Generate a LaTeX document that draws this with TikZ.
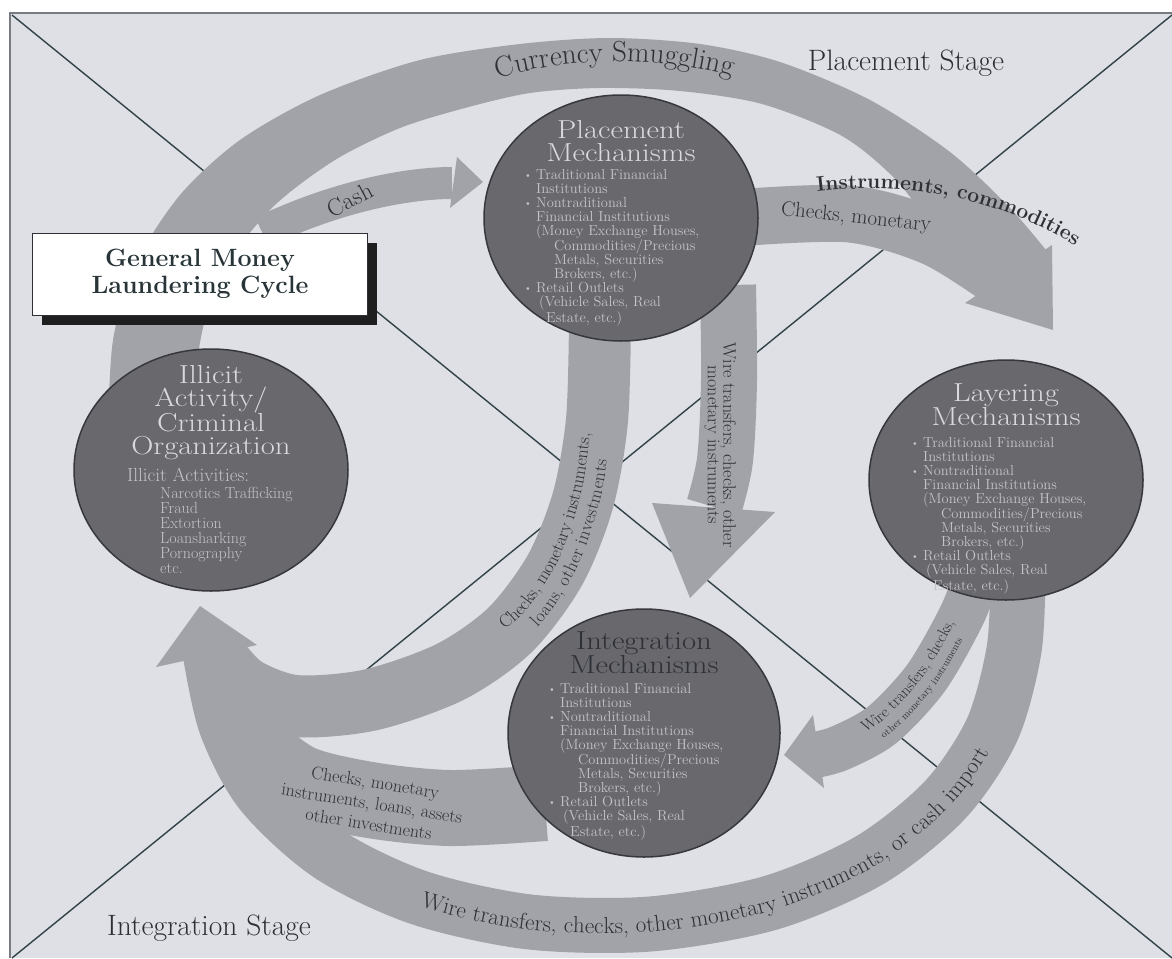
\documentclass[tikz,border=0pt]{standalone}
\usepackage{fontspec}
\usepackage{graphicx}
\usetikzlibrary{positioning, shapes.geometric, shadows, decorations.text}

\definecolor{bgpaper}{RGB}{222,224,230}
\definecolor{framec}{RGB}{120,124,130}
\definecolor{xlinec}{RGB}{50,66,72}
\definecolor{bandgray}{RGB}{162,163,169}
\definecolor{orbfill}{RGB}{104,104,109}
\definecolor{orbline}{RGB}{55,56,62}
\definecolor{orbtext}{RGB}{218,218,222}
\definecolor{inktext}{RGB}{45,48,54}
\definecolor{boxink}{RGB}{40,52,56}

\newcommand{\Bul}{\makebox[12pt][l]{\raisebox{1pt}{\scalebox{0.7}{\textbullet}}}}
\newcommand{\Ind}{\hspace*{12pt}}
\newcommand{\Wide}[1]{\scalebox{1.18}[1]{#1}}
\newcommand{\MechList}{\Bul Traditional Financial\\
  \Ind Institutions\\
  \Bul Nontraditional\\
  \Ind Financial Institutions\\
  \Ind (Money Exchange Houses,\\
  \Ind\hspace*{18pt}Commodities/Precious\\
  \Ind\hspace*{18pt}Metals, Securities\\
  \Ind\hspace*{18pt}Brokers, etc.)\\
  \Bul Retail Outlets\\
  \Ind\hspace*{3pt}(Vehicle Sales, Real\\
  \Ind\hspace*{10pt}Estate, etc.)}

\tikzset{
    orb/.style={ellipse, draw=orbline, line width=1.5pt, fill=orbfill, inner sep=0pt},
    orbtitle/.style={text=orbtext, align=center, inner sep=0pt, font=\fontsize{26}{23}\selectfont},
    orbbody/.style={text=orbtext!90!black, align=left, inner sep=0pt, anchor=north west,
      font=\fontsize{14.5}{14}\selectfont},
    band/.style={draw=bandgray, line width=#1, line cap=butt},
    bandhead/.style={fill=bandgray},
    bandlabel/.style={text=inktext, align=center, inner sep=0pt},
    stagelabel/.style={text=inktext, inner sep=0pt, font=\fontsize{29.5}{29.5}\selectfont},
    xline/.style={draw=xlinec, line width=1.4pt},
    alongband/.style={decorate, decoration={text along path, text align=center, text color=inktext, #1}},
    cyclebox/.style={rectangle, draw=inktext, line width=0.8pt, fill=white, minimum width=335pt,
      minimum height=82pt, align=center, text=boxink, font=\bfseries\fontsize{25}{27}\selectfont,
      drop shadow={shadow xshift=9pt, shadow yshift=-10pt, fill=black!88, opacity=1}},
}

\begin{document}
\begin{tikzpicture}[x=1pt, y=-1pt]
    \useasboundingbox (0,0) rectangle (1172,958);
    \fill[bgpaper] (10,13) rectangle (1172,958);
    \draw[framec, line width=2pt] (10,958) -- (10,13) -- (1172,13);
    \draw[xline] (12,15) -- (1172,958);
    \draw[xline] (1172,15) -- (12,958);

    \coordinate (smugtip) at (1053,330);
    \coordinate (cashtip) at (483,182);
    \coordinate (wiretip) at (690,598);
    \coordinate (backtip) at (200,606);
    \coordinate (layertip) at (784,755);

    \fill[bandgray] plot[smooth] coordinates {(108,430) (113,340) (135,265) (180,195) (240,140) (320,95)
        (420,60) (520,44) (610,38) (700,44) (780,62) (870,100) (950,152) (1010,208) (1050,255)}
      -- plot[smooth] coordinates {(985,300) (938,236) (896,180) (842,136) (762,104) (680,91) (600,88)
        (530,93) (465,108) (400,128) (335,160) (275,205) (230,260) (205,320) (195,380) (195,430)} -- cycle;
    \draw[band=57] plot[smooth] coordinates {(735,218) (850,214) (935,238) (1005,282)};
    \fill[bandhead] (965,303) -- (1052,245) -- (smugtip) -- cycle;

    \draw[band=32] (262,232) .. controls (340,195) and (410,183) .. (452,183);
    \fill[bandhead] (457,157) -- (cashtip) -- (450,208) -- cycle;

    \draw[band=56] plot[smooth] coordinates {(728,285) (729,380) (725,460) (714,507)};
    \fill[bandhead] (652,503) -- (775,512) -- (wiretip) -- cycle;

    \draw[band=62] plot[smooth] coordinates {(600,320) (597,420) (583,500) (555,570) (510,630) (450,672)
        (370,700) (295,706) (245,688) (218,660)};
    \draw[band=76] plot[smooth] coordinates {(545,803) (450,808) (370,800) (300,783) (255,748) (232,700)};
    \draw[band=55] plot[smooth] coordinates {(1018,575) (1014,650) (992,730) (945,800) (870,860) (770,903)
        (650,924) (530,922) (420,898) (330,855) (262,793) (226,725) (210,652)};
    \fill[bandhead] (156,667) -- (257,645) -- (backtip) -- cycle;

    \draw[band=46] plot[smooth] coordinates {(978,572) (962,615) (926,678) (882,725) (840,748) (815,755)};
    \fill[bandhead] (813,715) -- (824,788) -- (layertip) -- cycle;

    \node[orb, minimum width=274pt, minimum height=246pt] (placement) at (621,218) {};
    \node[orb, minimum width=274pt, minimum height=240pt] (layering) at (1006,480) {};
    \node[orb, minimum width=272pt, minimum height=248pt] (integration) at (644,733) {};
    \node[orb, minimum width=274pt, minimum height=242pt] (illicit) at (211,470) {};

    \node[cyclebox] (cycle) at (200,274) {General Money\\Laundering Cycle};

    \node[orbtitle, below=26pt of placement.north] (ptitle) {\Wide{Placement}\\\Wide{Mechanisms}};
    \node[orbbody] (pbody) at (524,169) {\MechList};
    \node[orbtitle, below=24pt of layering.north] (ltitle) {\Wide{Layering}\\\Wide{Mechanisms}};
    \node[orbbody] (lbody) at (911,437) {\MechList};
    \node[orbtitle, text=inktext, below=23pt of integration.north] (gtitle) {\Wide{Integration}\\\Wide{Mechanisms}};
    \node[orbbody] (gbody) at (548,683) {\MechList};
    \node[orbtitle, font=\fontsize{26}{22.7}\selectfont, below=17pt of illicit.north] (ititle)
      {\Wide{Illicit}\\\Wide{Activity/}\\\Wide{Criminal}\\\Wide{Organization}};
    \node[orbbody, font=\fontsize{19}{19}\selectfont] (ihead) at (127,468) {Illicit Activities:};
    \node[orbbody, font=\fontsize{16}{15}\selectfont] (ilist) at (160,487)
      {Narcotics Trafficking\\Fraud\\Extortion\\Loansharking\\Pornography\\etc.};

    \path[alongband={text={|\fontsize{29}{29}\selectfont|Currency Smuggling}}]
      (448,98) .. controls (540,50) and (690,50) .. (782,95);
    \path[alongband={text={|\bfseries\fontsize{21}{21}\selectfont|Instruments, commodities}}]
      (788,196) .. controls (880,180) and (990,185) .. (1100,262);
    \node[bandlabel, rotate=-6, font=\fontsize{21}{21}\selectfont] (chklbl) at (856,218) {Checks, monetary};
    \node[bandlabel, rotate=28, font=\fontsize{24}{24}\selectfont] (cashlbl) at (350,200) {Cash};
    \node[bandlabel, rotate=-90, font=\fontsize{18}{15.5}\selectfont] (wirelbl) at (720,445)
      {Wire transfers, checks, other\\monetary instruments};
    \path[alongband={text={|\fontsize{18}{18}\selectfont|Checks, monetary instruments,}, raise=6pt}]
      plot[smooth] coordinates {(420,688) (480,655) (530,615) (565,560) (588,490) (598,410) (600,330)};
    \path[alongband={text={|\fontsize{18}{18}\selectfont|loans, other investments}, raise=-14pt}]
      plot[smooth] coordinates {(420,688) (480,655) (530,615) (565,560) (588,490) (598,410) (600,330)};
    \node[bandlabel, rotate=-9, font=\fontsize{18}{21}\selectfont] (loanlbl) at (372,803)
      {Checks, monetary\\instruments, loans, assets\\other investments};
    \path[alongband={text={|\fontsize{16}{16}\selectfont|Wire transfers, checks,}, raise=3pt}]
      plot[smooth] coordinates {(815,755) (840,748) (882,725) (926,678) (962,615) (978,572)};
    \path[alongband={text={|\fontsize{10}{10}\selectfont|other monetary instruments}, raise=-12pt}]
      plot[smooth] coordinates {(815,755) (840,748) (882,725) (926,678) (962,615) (978,572)};
    \path[alongband={text={|\fontsize{23}{23}\selectfont|Wire transfers, checks, other monetary instruments, or cash import}, raise=-8pt}]
      plot[smooth] coordinates {(320,850) (420,898) (530,922) (650,924) (770,903) (870,860) (945,800)
        (992,730) (1016,640)};

    \node[stagelabel] (pstage) at (906,63) {Placement Stage};
    \node[stagelabel] (istage) at (209,928) {Integration Stage};
\end{tikzpicture}
\end{document}
